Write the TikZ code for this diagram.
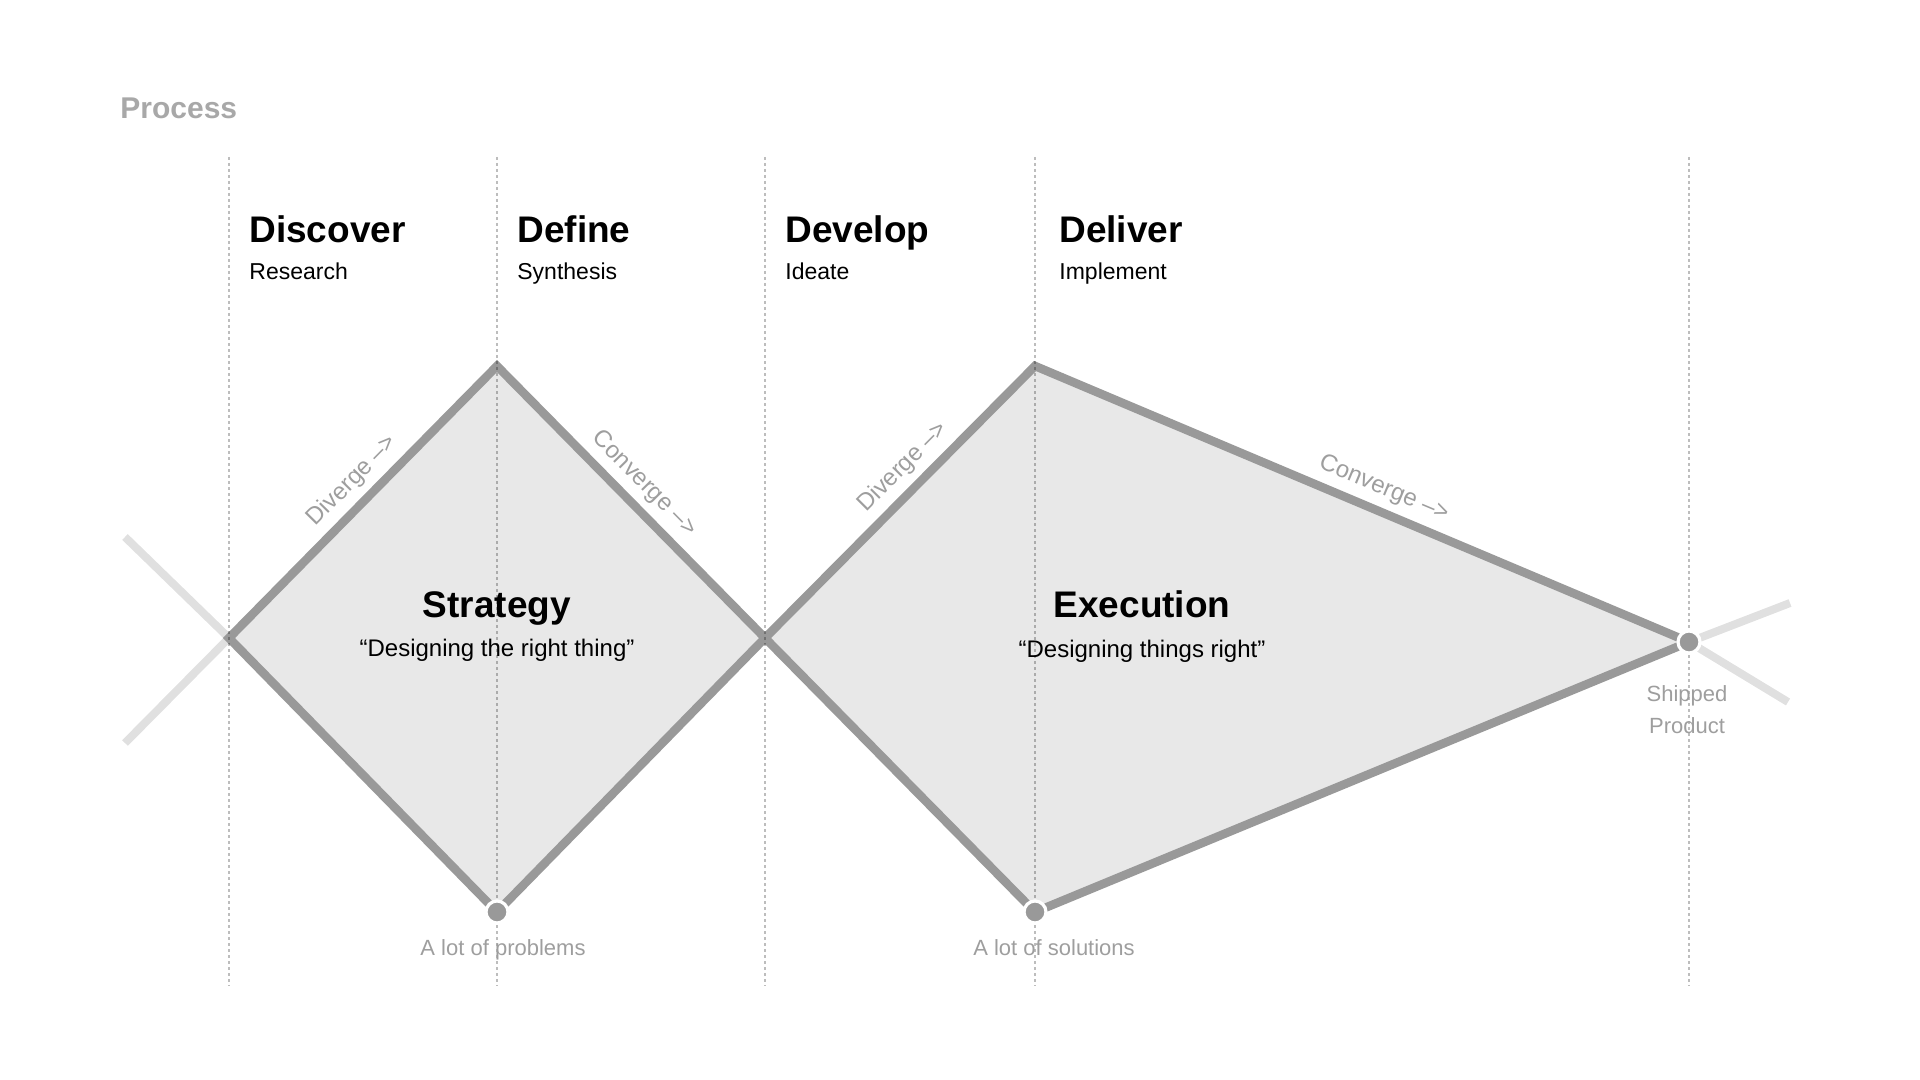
\documentclass[tikz,border=0pt]{standalone}
\usepackage{fontspec}
\setmainfont{Liberation Sans}
\definecolor{edgegray}{HTML}{999999}
\definecolor{areagray}{HTML}{E8E8E8}
\definecolor{faint}{HTML}{E0E0E0}
\definecolor{note}{HTML}{9E9E9E}
\definecolor{title}{HTML}{A8A8A8}
\newcommand{\fs}[2]{\fontsize{#1}{#2}\selectfont}
\tikzset{
  phase/.style={anchor=base west, inner sep=0pt, font=\bfseries\fs{18.5}{22}},
  task/.style={anchor=base west, inner sep=0pt, font=\fs{11.5}{14}},
  flow/.style={draw=edgegray, line width=4.3pt, line join=miter},
  tail/.style={draw=faint, line width=4pt},
  guide/.style={draw=black, draw opacity=0.26, line width=0.75pt, dash pattern=on 1.5pt off 1.5pt},
  diag/.style={sloped, above=3.5pt, inner sep=0pt, text=note, font=\fs{12}{14}},
  tag/.style={inner sep=0pt, text=note, font=\fs{11}{16}, align=center},
  dot/.style={circle, fill=edgegray, draw=white, line width=1.6pt, minimum size=11pt, inner sep=0pt},
}

\begin{document}
\begin{tikzpicture}[x=0.5pt, y=-0.5pt]
  \useasboundingbox (0,0) rectangle (1920,1080);
  % corners of the two diamonds
  \coordinate (start) at (229,638);
  \coordinate (peakA) at (497,366);
  \coordinate (troughA) at (497,912);
  \coordinate (mid) at (765,638);
  \coordinate (peakB) at (1035,366);
  \coordinate (troughB) at (1035,912);
  \coordinate (ship) at (1689,642);
  \coordinate (inUp) at (125,537);
  \coordinate (inDown) at (125,743);
  \coordinate (outUp) at (1790,603);
  \coordinate (outDown) at (1788,702);

  % faint lines in and out
  \draw[tail] (inUp) -- (start) -- (inDown);
  \draw[tail] (outUp) -- (ship) -- (outDown);

  % the two shapes
  \fill[areagray] (start) -- (peakA) -- (mid) -- (troughA) -- cycle;
  \fill[areagray] (mid) -- (peakB) -- (ship) -- (troughB) -- cycle;
  \draw[flow] (start) -- node[diag, pos=0.52] {Diverge –>} (peakA)
    -- node[diag, pos=0.49] {Converge –>} (mid) -- (troughA) -- cycle;
  \draw[flow] (mid) -- node[diag, pos=0.57] {Diverge –>} (peakB)
    -- node[diag, pos=0.52] {Converge –>} (ship) -- (troughB) -- cycle;

  % column guides
  \foreach \x in {229,497,765,1035,1689}
    \draw[guide] (\x,157) -- (\x,986);

  \node[dot] (problemsdot) at (troughA) {};
  \node[dot] (solutionsdot) at (troughB) {};
  \node[dot] (shipdot) at (ship) {};

  \node[anchor=base west, inner sep=0pt, text=title, font=\bfseries\fs{15}{18}] (process) at (120,119) {Process};

  \node[phase] (discover) at (249,243) {Discover};
  \node[task] (research) at (249,280) {Research};
  \node[phase] (define) at (517,243) {Define};
  \node[task] (synthesis) at (517,280) {Synthesis};
  \node[phase] (develop) at (785,243) {Develop};
  \node[task] (ideate) at (785,280) {Ideate};
  \node[phase] (deliver) at (1059,243) {Deliver};
  \node[task] (implement) at (1059,280) {Implement};

  \node[anchor=base, inner sep=0pt, font=\bfseries\fs{18.5}{22}] (strategy) at (497,617) {Strategy};
  \node[anchor=base, inner sep=0pt, font=\fs{12}{14}] (rightthing) at (497,656) {“Designing the right thing”};
  \node[anchor=base, inner sep=0pt, font=\bfseries\fs{18.5}{22}] (execution) at (1142,617) {Execution};
  \node[anchor=base, inner sep=0pt, font=\fs{12}{14}] (thingsright) at (1142,657) {“Designing things right”};

  \node[tag, anchor=base] (problems) at (503,955) {A lot of problems};
  \node[tag, anchor=base] (solutions) at (1054,955) {A lot of solutions};
  \node[tag, anchor=north] (shipped) at (1687,685) {Shipped\\Product};
\end{tikzpicture}
\end{document}
